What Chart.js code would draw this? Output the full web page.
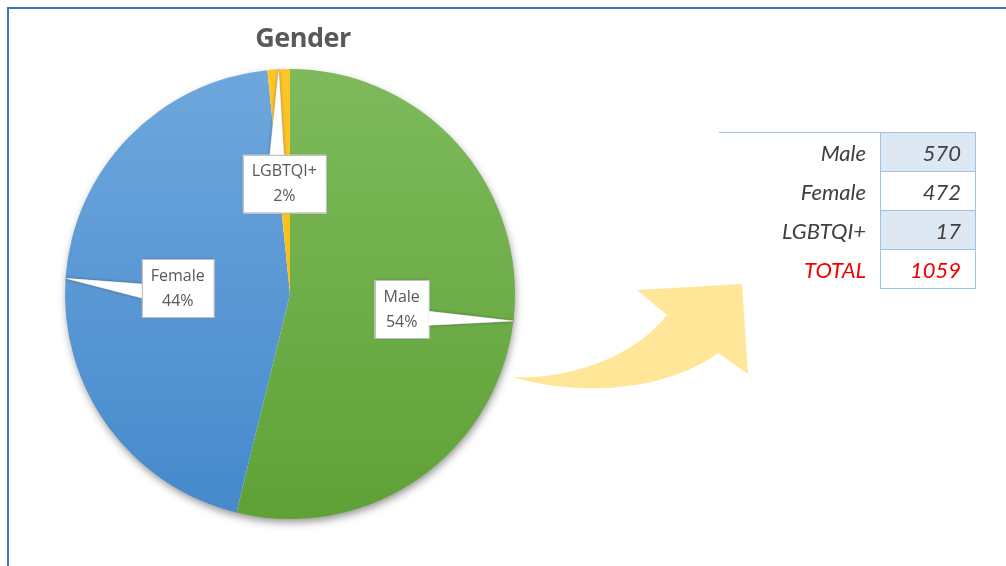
<!DOCTYPE html>
<html>
<head>
<meta charset="utf-8">
<script src="https://cdn.jsdelivr.net/npm/chart.js@4.4.1/dist/chart.umd.min.js"></script>
<style>
  html, body { margin: 0; padding: 0; background: #fff; }
  body { width: 1006px; height: 566px; position: relative; overflow: hidden; }
  #frame { position: absolute; left: 7px; top: 7px; right: -4px; bottom: -4px;
           border-top: 2px solid #3a77bb; border-left: 2px solid #3a77bb; }
  #arrow { position: absolute; left: 0; top: 0; }
  #chartBox { position: absolute; left: 0; top: 0; width: 1006px; height: 566px; }
  #title { position: absolute; left: 203px; width: 200px; top: 18px; text-align: center;
           font: bold 27px "Open Sans", sans-serif; color: #595959; letter-spacing: -0.5px; }
  #tbl { position: absolute; left: 719px; top: 132px; border-collapse: collapse;
         font: italic 22px Lato, "Open Sans", sans-serif; color: #404040; }
  #tbl td { height: 38px; padding: 0; }
  #tbl td.lab { width: 147px; text-align: right; padding-right: 14px; }
  #tbl td.val { width: 80px; text-align: right; padding-right: 14px; border: 1px solid #9fc1e4; }
  #tbl tr:first-child td.lab { border-top: 1px solid #9fc1e4; }
  #tbl td.shade { background: #dde8f4; }
  #tbl tr.total td { color: #f00000; }
</style>
</head>
<body>
<div id="frame"></div>
<svg id="arrow" width="1006" height="566">
  <path d="M512,377 C560,380 630,362 667,315 L637,290 L742,284 L748,374 L718,353 C680,382 600,402 512,377 Z"
        fill="#ffe699"/>
</svg>
<div id="chartBox"><canvas id="myChart"></canvas></div>
<div id="title">Gender</div>
<table id="tbl"></table>
<script>
'use strict';

var categories = ['Male', 'Female', 'LGBTQI+'];
var counts = [570, 472, 17];
var totalLabel = 'TOTAL';

var sliceTop = ['#7eba5c', '#6ea7dd', '#ffc62a'];
var sliceBottom = ['#5fa136', '#4589cb', '#f5b800'];

var total = counts.reduce(function(a, b) { return a + b; }, 0);

//whole percentages that add up to 100 (largest remainder)
var raw = counts.map(function(v) { return v / total * 100; });
var pcts = raw.map(Math.floor);
var left = 100 - pcts.reduce(function(a, b) { return a + b; }, 0);
raw.map(function(v, i) { return [v - Math.floor(v), i]; })
  .sort(function(a, b) { return b[0] - a[0]; })
  .slice(0, left)
  .forEach(function(r) { pcts[r[1]] += 1; });

//table on the right
var tbl = document.getElementById('tbl');
var rows = categories.map(function(c, i) { return [c, counts[i]]; });
rows.push([totalLabel, total]);
rows.forEach(function(r, i) {
  var tr = document.createElement('tr');
  if (r[0] === totalLabel) tr.className = 'total';
  var td1 = document.createElement('td');
  td1.className = 'lab';
  td1.textContent = r[0];
  var td2 = document.createElement('td');
  td2.className = 'val' + (i % 2 === 0 ? ' shade' : '');
  td2.textContent = r[1];
  tr.appendChild(td1);
  tr.appendChild(td2);
  tbl.appendChild(tr);
});

//soft shadow under the pie
var pieShadow = {
  id: 'pieShadow',
  beforeDatasetsDraw: function(chart) {
    var arc = chart.getDatasetMeta(0).data[0];
    if (!arc) return;
    var ctx = chart.ctx;
    ctx.save();
    ctx.shadowColor = 'rgba(0,0,0,0.45)';
    ctx.shadowBlur = 9;
    ctx.shadowOffsetX = 1;
    ctx.shadowOffsetY = 4;
    ctx.fillStyle = '#fff';
    ctx.beginPath();
    ctx.arc(arc.x, arc.y, arc.outerRadius - 1, 0, Math.PI * 2);
    ctx.fill();
    ctx.restore();
  }
};

//callout boxes with a pointer to the rim
var callouts = {
  id: 'callouts',
  afterDatasetsDraw: function(chart) {
    var ctx = chart.ctx;
    var meta = chart.getDatasetMeta(0);
    ctx.save();
    ctx.font = '16px "Open Sans", sans-serif';
    meta.data.forEach(function(arc, i) {
      var mid = (arc.startAngle + arc.endAngle) / 2;
      var R = arc.outerRadius;
      var tipX = arc.x + Math.cos(mid) * R;
      var tipY = arc.y + Math.sin(mid) * R;
      var cx = arc.x + Math.cos(mid) * R * 0.5;
      var cy = arc.y + Math.sin(mid) * R * 0.5 + 2;
      var pct = pcts[i] + '%';
      var w = Math.max(ctx.measureText(categories[i]).width, ctx.measureText(pct).width) + 18;
      var h = 58;
      var x0 = cx - w / 2, y0 = cy - h / 2;

      //pointer base on the box edge facing the tip
      var dx = tipX - cx, dy = tipY - cy;
      var pts;
      if (Math.abs(dx) / (w / 2) > Math.abs(dy) / (h / 2)) {
        var ex = dx > 0 ? x0 + w : x0;
        var ey = cy + dy * ((ex - cx) / dx) + 6;
        pts = [[ex, ey - 7], [tipX, tipY], [ex, ey + 7]];
      } else {
        var ey2 = dy > 0 ? y0 + h : y0;
        var ex2 = cx + dx * ((ey2 - cy) / dy) - 6;
        pts = [[ex2 - 7, ey2], [tipX, tipY], [ex2 + 7, ey2]];
      }

      ctx.shadowColor = 'rgba(0,0,0,0.25)';
      ctx.shadowBlur = 3;
      ctx.fillStyle = '#fff';
      ctx.strokeStyle = '#bfbfbf';
      ctx.lineWidth = 1;
      ctx.beginPath();
      ctx.moveTo(pts[0][0], pts[0][1]);
      ctx.lineTo(pts[1][0], pts[1][1]);
      ctx.lineTo(pts[2][0], pts[2][1]);
      ctx.closePath();
      ctx.fill();
      ctx.stroke();
      ctx.fillRect(x0, y0, w, h);
      ctx.shadowBlur = 0;
      ctx.strokeRect(Math.round(x0) + 0.5, Math.round(y0) + 0.5, Math.round(w), h);
      //cover the pointer seam
      ctx.beginPath();
      ctx.moveTo(pts[0][0], pts[0][1]);
      ctx.lineTo(pts[1][0], pts[1][1]);
      ctx.lineTo(pts[2][0], pts[2][1]);
      ctx.closePath();
      ctx.fill();

      ctx.fillStyle = '#595959';
      ctx.textAlign = 'center';
      ctx.textBaseline = 'middle';
      ctx.fillText(categories[i], cx, cy - 12);
      ctx.fillText(pct, cx, cy + 13);
    });
    ctx.restore();
  }
};

var ctx = document.getElementById('myChart').getContext('2d');

var chart = new Chart(ctx, {
  type: 'pie',
  data: {
    labels: categories,
    datasets: [{
      data: counts,
      borderWidth: 0,
      backgroundColor: function(c) {
        var area = c.chart.chartArea;
        if (!area) return sliceTop[c.dataIndex];
        var g = c.chart.ctx.createLinearGradient(0, area.top, 0, area.bottom);
        g.addColorStop(0, sliceTop[c.dataIndex]);
        g.addColorStop(1, sliceBottom[c.dataIndex]);
        return g;
      }
    }]
  },
  options: {
    responsive: true,
    maintainAspectRatio: false,
    animation: false,
    layout: { padding: { left: 65, right: 491, top: 69, bottom: 47 } },
    plugins: {
      legend: { display: false },
      title: { display: false },
      tooltip: { enabled: false }
    }
  },
  plugins: [pieShadow, callouts]
});
</script>
</body>
</html>
